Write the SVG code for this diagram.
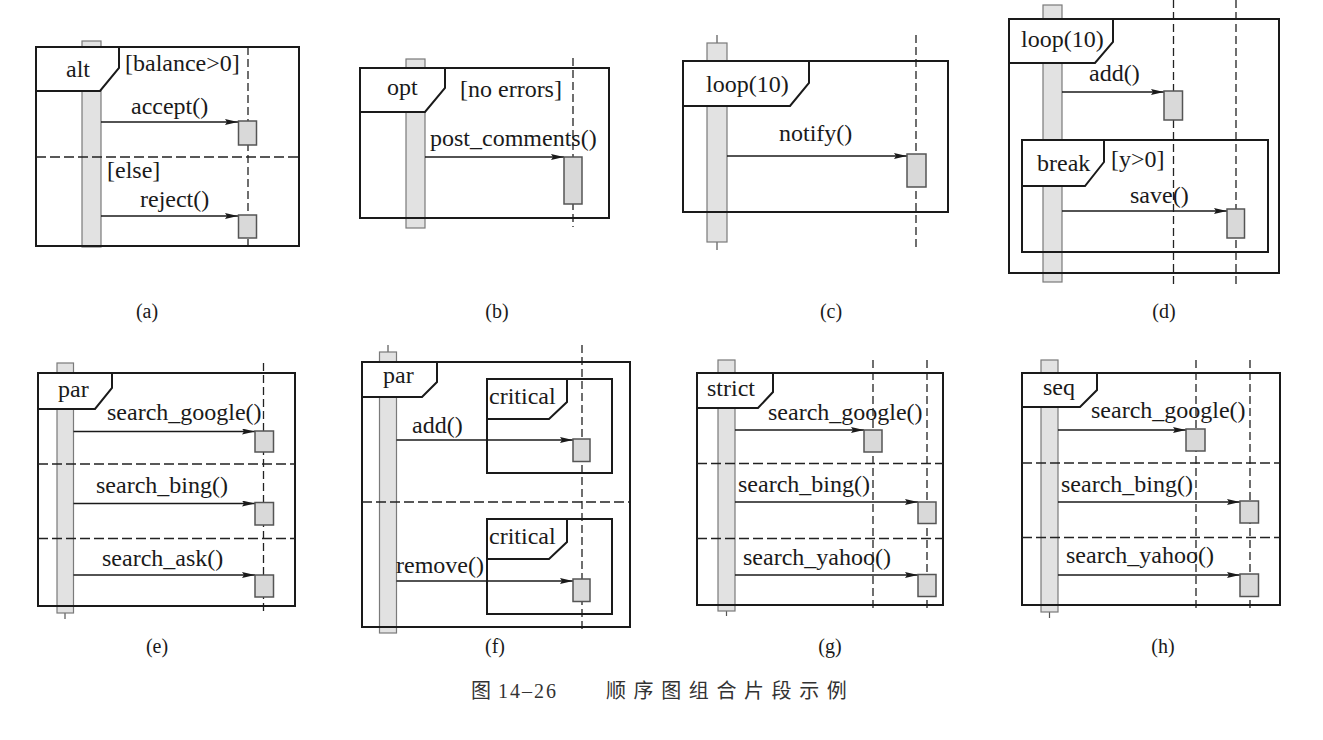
<svg xmlns="http://www.w3.org/2000/svg" width="1323" height="740" viewBox="0 0 1323 740">
  <defs>
    <style>
      .frame { fill: none; stroke: #1a1a1a; stroke-width: 2; }
      .tab { fill: #fff; stroke: #1a1a1a; stroke-width: 2; stroke-linejoin: miter; }
      .life { fill: none; stroke: #222; stroke-width: 1.3; stroke-dasharray: 8 4; }
      .sep { fill: none; stroke: #222; stroke-width: 1.5; stroke-dasharray: 10 4; }
      .bar { fill: #e2e2e2; stroke: #7a7a7a; stroke-width: 1.2; }
      .stub { stroke: #555; stroke-width: 1.2; }
      .act { fill: #d9d9d9; stroke: #555; stroke-width: 1.5; }
      .msg { fill: none; stroke: #1a1a1a; stroke-width: 1.4; marker-end: url(#ah); }
      .t { font-family: 'Liberation Serif', 'DejaVu Serif', serif; font-size: 24px; fill: #1a1a1a; }
      .lbl { font-family: 'Liberation Serif', 'DejaVu Serif', serif; font-size: 20px; fill: #1a1a1a; text-anchor: middle; }
      .mid { text-anchor: middle; }
      .cap { font-family: 'Liberation Serif', 'Noto Sans CJK SC', serif; font-size: 20px; fill: #333; }
    </style>
    <marker id="ah" markerUnits="userSpaceOnUse" markerWidth="13" markerHeight="6" refX="13" refY="3" orient="auto">
      <path d="M0,0 L13,3 L0,6 L2,3 z" fill="#1a1a1a"/>
    </marker>
  </defs>
  <rect width="1323" height="740" fill="#fff"/>

  <!-- (a) alt -->
  <g id="panel-a">
    <g id="a-nodes">
      <rect class="bar" x="82" y="41" width="19" height="206"/>
      <line class="life" x1="248" y1="47" x2="248" y2="246"/>
      <rect class="frame" x="36" y="47" width="263" height="199"/>
      <line class="sep" x1="36" y1="157" x2="299" y2="157"/>
      <polygon class="tab" points="36,47 119,47 119,68 100,91 36,91"/>
      <text class="t mid" x="78" y="77" font-family="Liberation Serif, serif">alt</text>
      <text class="t" x="125" y="71" font-family="Liberation Serif, serif">[balance&gt;0]</text>
      <text class="t" x="107" y="178" font-family="Liberation Serif, serif">[else]</text>
    </g>
    <g id="a-connectors">
      <line class="msg" x1="101" y1="122" x2="238" y2="122"/>
      <line class="msg" x1="101" y1="216" x2="238" y2="216"/>
      <text class="t" x="131" y="114" font-family="Liberation Serif, serif">accept()</text>
      <text class="t" x="140" y="207" font-family="Liberation Serif, serif">reject()</text>
    </g>
    <rect class="act" x="238.5" y="121" width="18" height="24"/>
    <rect class="act" x="238.5" y="215" width="18" height="23"/>
  </g>

  <!-- (b) opt -->
  <g id="panel-b">
    <g id="b-nodes">
      <rect class="bar" x="406" y="59" width="19" height="169"/>
      <line class="life" x1="573" y1="58" x2="573" y2="227"/>
      <rect class="frame" x="360" y="68" width="249" height="150"/>
      <polygon class="tab" points="360,68 445,68 445,88 425,112 360,112"/>
      <text class="t" x="387" y="95" font-family="Liberation Serif, serif">opt</text>
      <text class="t" x="460" y="97" font-family="Liberation Serif, serif">[no errors]</text>
    </g>
    <g id="b-connectors">
      <line class="msg" x1="425" y1="157" x2="564" y2="157"/>
      <text class="t" x="430" y="146" font-family="Liberation Serif, serif">post_comments()</text>
    </g>
    <rect class="act" x="564" y="157" width="18" height="47"/>
  </g>

  <!-- (c) loop -->
  <g id="panel-c">
    <g id="c-nodes">
      <line class="stub" x1="717" y1="35" x2="717" y2="250"/>
      <rect class="bar" x="707" y="43" width="20" height="199"/>
      <line class="life" x1="916" y1="35" x2="916" y2="250"/>
      <rect class="frame" x="683" y="61" width="265" height="151"/>
      <polygon class="tab" points="683,61 809,61 809,83 790,106 683,106"/>
      <text class="t" x="706" y="92" font-family="Liberation Serif, serif">loop(10)</text>
    </g>
    <g id="c-connectors">
      <line class="msg" x1="727" y1="156" x2="907" y2="156"/>
      <text class="t" x="779" y="141" font-family="Liberation Serif, serif">notify()</text>
    </g>
    <rect class="act" x="907" y="154" width="19" height="33"/>
  </g>

  <!-- (d) loop with break -->
  <g id="panel-d">
    <g id="d-nodes">
      <rect class="bar" x="1043" y="5" width="19" height="277"/>
      <line class="life" x1="1173.5" y1="0" x2="1173.5" y2="285"/>
      <line class="life" x1="1236" y1="0" x2="1236" y2="285"/>
      <rect class="frame" x="1009" y="19" width="270" height="254"/>
      <polygon class="tab" points="1009,19 1113,19 1113,42 1095,63 1009,63"/>
      <text class="t" x="1021" y="47" font-family="Liberation Serif, serif">loop(10)</text>
      <rect class="frame" x="1022" y="140" width="246" height="112"/>
      <polygon class="tab" points="1022,140 1104,140 1104,162 1085,186 1022,186"/>
      <text class="t" x="1037" y="171" font-family="Liberation Serif, serif">break</text>
      <text class="t" x="1111" y="167" font-family="Liberation Serif, serif">[y&gt;0]</text>
    </g>
    <g id="d-connectors">
      <line class="msg" x1="1062" y1="92" x2="1164" y2="92"/>
      <line class="msg" x1="1062" y1="211" x2="1227" y2="211"/>
      <text class="t" x="1089" y="81" font-family="Liberation Serif, serif">add()</text>
      <text class="t" x="1130" y="203" font-family="Liberation Serif, serif">save()</text>
    </g>
    <rect class="act" x="1164" y="91" width="18.5" height="29"/>
    <rect class="act" x="1227" y="209" width="17.5" height="29"/>
  </g>

  <!-- (e) par -->
  <g id="panel-e">
    <g id="e-nodes">
      <line class="stub" x1="65" y1="613" x2="65" y2="619"/>
      <rect class="bar" x="57" y="363" width="16.5" height="250"/>
      <line class="life" x1="263.5" y1="363" x2="263.5" y2="612"/>
      <rect class="frame" x="38" y="373" width="257" height="233"/>
      <line class="sep" x1="38" y1="464" x2="295" y2="464"/>
      <line class="sep" x1="38" y1="538.5" x2="295" y2="538.5"/>
      <polygon class="tab" points="38,373 112,373 112,388 95,409 38,409"/>
      <text class="t" x="58" y="397" font-family="Liberation Serif, serif">par</text>
    </g>
    <g id="e-connectors">
      <line class="msg" x1="73.5" y1="431.5" x2="255" y2="431.5"/>
      <line class="msg" x1="73.5" y1="503.5" x2="255" y2="503.5"/>
      <line class="msg" x1="73.5" y1="575" x2="255" y2="575"/>
      <text class="t" x="107" y="420" font-family="Liberation Serif, serif">search_google()</text>
      <text class="t" x="96" y="493" font-family="Liberation Serif, serif">search_bing()</text>
      <text class="t" x="102" y="566" font-family="Liberation Serif, serif">search_ask()</text>
    </g>
    <rect class="act" x="255" y="431" width="18.5" height="21"/>
    <rect class="act" x="255" y="502.5" width="18.5" height="22.5"/>
    <rect class="act" x="255" y="575" width="18.5" height="22"/>
  </g>

  <!-- (f) par with critical regions -->
  <g id="panel-f">
    <g id="f-nodes">
      <line class="stub" x1="388" y1="345" x2="388" y2="352"/>
      <rect class="bar" x="379.5" y="352" width="17" height="281"/>
      <line class="life" x1="582" y1="345" x2="582" y2="631"/>
      <rect class="frame" x="362" y="362" width="268" height="265"/>
      <line class="sep" x1="362" y1="502" x2="630" y2="502"/>
      <polygon class="tab" points="362,362 437,362 437,382 422,397 362,397"/>
      <text class="t" x="383" y="383" font-family="Liberation Serif, serif">par</text>
      <rect class="frame" x="487" y="379" width="125" height="94"/>
      <polygon class="tab" points="487,379 567,379 567,402 549,419 487,419"/>
      <text class="t" x="489" y="404" font-family="Liberation Serif, serif">critical</text>
      <rect class="frame" x="487" y="519" width="125" height="95"/>
      <polygon class="tab" points="487,519 567,519 567,542 549,559 487,559"/>
      <text class="t" x="489" y="544" font-family="Liberation Serif, serif">critical</text>
    </g>
    <g id="f-connectors">
      <line class="msg" x1="396.5" y1="440" x2="573" y2="440"/>
      <line class="msg" x1="396.5" y1="581" x2="573" y2="581"/>
      <text class="t" x="412" y="433" font-family="Liberation Serif, serif">add()</text>
      <text class="t" x="396" y="573" font-family="Liberation Serif, serif">remove()</text>
    </g>
    <rect class="act" x="573" y="439" width="17" height="22.5"/>
    <rect class="act" x="573" y="579" width="17" height="22.5"/>
  </g>

  <!-- (g) strict -->
  <g id="panel-g">
    <g id="g-nodes">
      <line class="stub" x1="726.5" y1="611" x2="726.5" y2="616"/>
      <rect class="bar" x="718" y="360" width="17" height="251"/>
      <line class="life" x1="873" y1="360" x2="873" y2="611"/>
      <line class="life" x1="927" y1="360" x2="927" y2="611"/>
      <rect class="frame" x="697" y="373" width="246" height="232"/>
      <line class="sep" x1="697" y1="463.5" x2="943" y2="463.5"/>
      <line class="sep" x1="697" y1="538.5" x2="943" y2="538.5"/>
      <polygon class="tab" points="697,373 773,373 773,392 758,408 697,408"/>
      <text class="t" x="707" y="396" font-family="Liberation Serif, serif">strict</text>
    </g>
    <g id="g-connectors">
      <line class="msg" x1="735" y1="430" x2="864" y2="430"/>
      <line class="msg" x1="735" y1="502" x2="918" y2="502"/>
      <line class="msg" x1="735" y1="575" x2="918" y2="575"/>
      <text class="t" x="768" y="420" font-family="Liberation Serif, serif">search_google()</text>
      <text class="t" x="738" y="492" font-family="Liberation Serif, serif">search_bing()</text>
      <text class="t" x="743" y="565" font-family="Liberation Serif, serif">search_yahoo()</text>
    </g>
    <rect class="act" x="864" y="430" width="18" height="22"/>
    <rect class="act" x="918" y="502" width="18" height="21.5"/>
    <rect class="act" x="918" y="574.5" width="18" height="22"/>
  </g>

  <!-- (h) seq -->
  <g id="panel-h">
    <g id="h-nodes">
      <line class="stub" x1="1049.5" y1="612" x2="1049.5" y2="618"/>
      <rect class="bar" x="1041" y="360" width="17" height="252"/>
      <line class="life" x1="1196" y1="360" x2="1196" y2="611"/>
      <line class="life" x1="1250" y1="360" x2="1250" y2="611"/>
      <rect class="frame" x="1022" y="373" width="258" height="232"/>
      <line class="sep" x1="1022" y1="463" x2="1280" y2="463"/>
      <line class="sep" x1="1022" y1="537.5" x2="1280" y2="537.5"/>
      <polygon class="tab" points="1022,373 1097,373 1097,390 1080,407 1022,407"/>
      <text class="t" x="1043" y="395" font-family="Liberation Serif, serif">seq</text>
    </g>
    <g id="h-connectors">
      <line class="msg" x1="1058" y1="430" x2="1186" y2="430"/>
      <line class="msg" x1="1058" y1="502" x2="1240" y2="502"/>
      <line class="msg" x1="1058" y1="575" x2="1240" y2="575"/>
      <text class="t" x="1091" y="418" font-family="Liberation Serif, serif">search_google()</text>
      <text class="t" x="1061" y="492" font-family="Liberation Serif, serif">search_bing()</text>
      <text class="t" x="1066" y="563" font-family="Liberation Serif, serif">search_yahoo()</text>
    </g>
    <rect class="act" x="1186" y="429" width="19" height="22"/>
    <rect class="act" x="1240" y="501" width="18.5" height="22"/>
    <rect class="act" x="1240" y="574" width="18.5" height="22.5"/>
  </g>

  <!-- sub-figure labels -->
  <g id="labels">
    <text class="lbl" x="147" y="318">(a)</text>
    <text class="lbl" x="497" y="318">(b)</text>
    <text class="lbl" x="831" y="318">(c)</text>
    <text class="lbl" x="1164" y="318">(d)</text>
    <text class="lbl" x="157" y="653">(e)</text>
    <text class="lbl" x="495" y="653">(f)</text>
    <text class="lbl" x="830" y="653">(g)</text>
    <text class="lbl" x="1163" y="653">(h)</text>
  </g>

  <!-- caption -->
  <g id="caption">
    <text class="cap" x="471" y="698">图</text>
    <text class="cap" x="498" y="698" font-size="22" letter-spacing="2">14–26</text>
    <text class="cap" x="606" y="698" letter-spacing="7.6">顺序图组合片段示例</text>
  </g>
</svg>
